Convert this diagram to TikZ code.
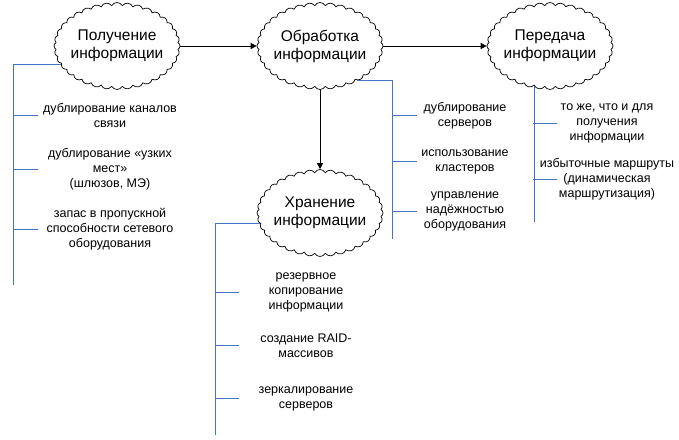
\documentclass[tikz,border=0pt]{standalone}
\usepackage{fontspec}
\setmainfont{Liberation Sans}
\usetikzlibrary{shapes.symbols,arrows.meta}
\definecolor{treeblue}{RGB}{68,114,196}
\tikzset{
  cloudbox/.style={cloud, cloud ignores aspect, draw, line width=0.7pt, cloud puffs=36, cloud puff arc=120,
    minimum width=126pt, minimum height=87pt, inner xsep=-14pt, inner ysep=-4pt, align=center,
    font=\fontsize{15.5}{18}\selectfont},
  flow/.style={draw, line width=0.8pt, -{Triangle[length=6pt,width=6pt]}},
  tree/.style={draw=treeblue, line width=0.8pt},
  leaf/.style={align=center, inner sep=0pt, font=\fontsize{12.5}{15}\selectfont}
}
\begin{document}
\begin{tikzpicture}[x=1pt,y=-1pt]
\useasboundingbox (0,0) rectangle (679,439);
% clouds
\node[cloudbox] (c1) at (117,46) {Получение\\информации};
\node[cloudbox] (c2) at (320,46) {Обработка\\информации};
\node[cloudbox] (c3) at (550,46) {Передача\\информации};
\node[cloudbox] (c4) at (320,213) {Хранение\\информации};
% flow arrows
\draw[flow] (c1.east) -- (c2.west);
\draw[flow] (c2.east) -- (c3.west);
\draw[flow] (c2.south) -- (c4.north);
% leaves
\node[leaf] (b11) at (110,115.5) {дублирование каналов\\связи};
\node[leaf] (b12) at (110,169) {дублирование «узких\\мест»\\(шлюзов, МЭ)};
\node[leaf] (b13) at (110,229) {запас в пропускной\\способности сетевого\\оборудования};
\node[leaf] (b21) at (465,115.5) {дублирование\\серверов};
\node[leaf] (b22) at (465,161.5) {использование\\кластеров};
\node[leaf] (b23) at (465,211.5) {управление\\надёжностью\\оборудования};
\node[leaf] (b31) at (607,123) {то же, что и для\\получения\\информации};
\node[leaf] (b32) at (607,179) {избыточные маршруты\\(динамическая\\маршрутизация)};
\node[leaf] (b41) at (306,292) {резервное\\копирование\\информации};
\node[leaf] (b42) at (306,345.5) {создание RAID-\\массивов};
\node[leaf] (b43) at (306,398.5) {зеркалирование\\серверов};
% trunk ends
\coordinate (t1) at (13,285);
\coordinate (t2) at (392,239);
\coordinate (t3) at (533,222);
\coordinate (t4) at (215,435);
% tree 1
\draw[tree] (c1.198) -| (t1);
\draw[tree] (t1 |- b11) -- ++(25,0);
\draw[tree] (t1 |- b12) -- ++(25,0);
\draw[tree] (t1 |- b13) -- ++(25,0);
% tree 2
\draw[tree] (c2.-43) -| (t2);
\draw[tree] (t2 |- b21) -- ++(25,0);
\draw[tree] (t2 |- b22) -- ++(25,0);
\draw[tree] (t2 |- b23) -- ++(25,0);
% tree 3
\draw[tree] (c3.-111) -- (c3.-111 |- t3);
\draw[tree] (t3 |- b31) -- ++(24,0);
\draw[tree] (t3 |- b32) -- ++(24,0);
% tree 4
\draw[tree] (c4.190) -| (t4);
\draw[tree] (t4 |- b41) -- ++(24,0);
\draw[tree] (t4 |- b42) -- ++(24,0);
\draw[tree] (t4 |- b43) -- ++(24,0);
\end{tikzpicture}
\end{document}
